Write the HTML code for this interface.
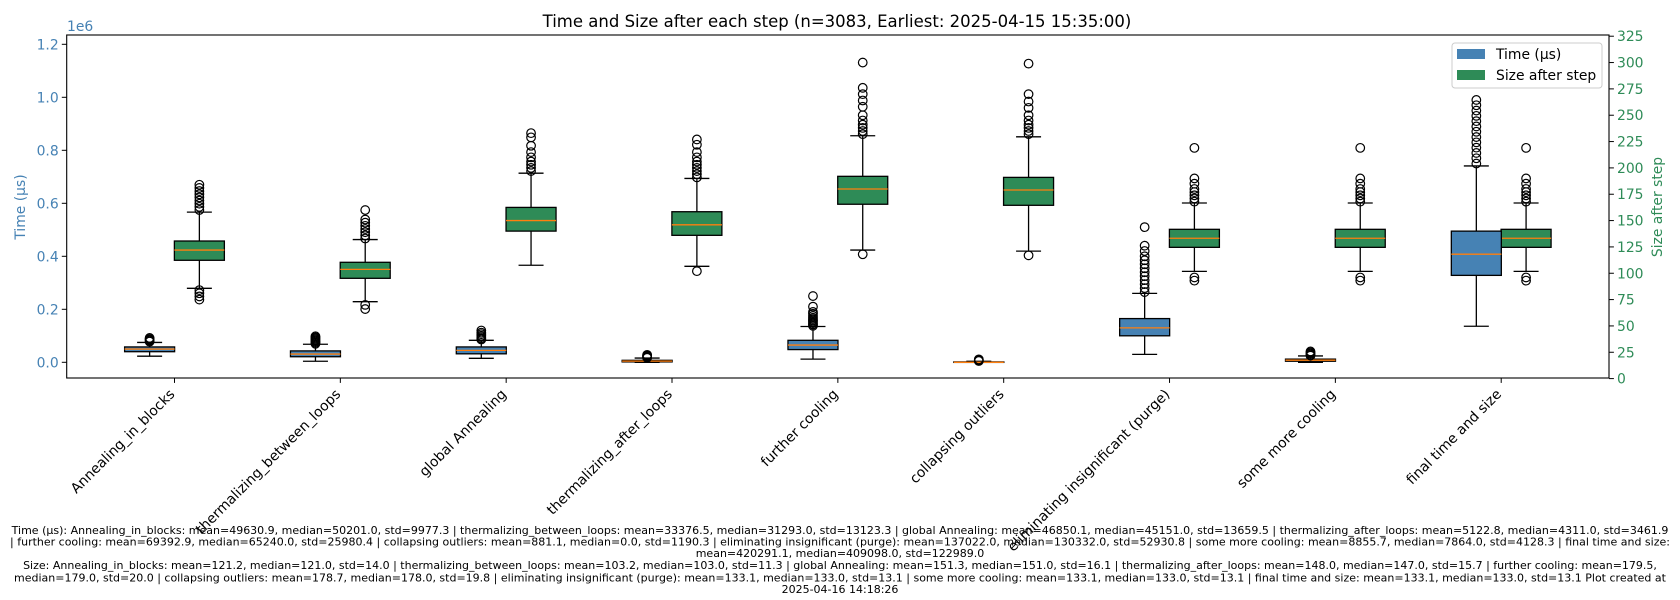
<!DOCTYPE html>
<html><head><meta charset="utf-8"><style>
html,body{margin:0;padding:0;background:#fff;width:1680px;height:600px;overflow:hidden}
svg text{font-family:"DejaVu Sans","Liberation Sans",sans-serif}
.foot{font-size:11px;fill:#000}
</style></head><body>
<svg id="chart" width="1680" height="600" viewBox="0 0 1680 600" xmlns="http://www.w3.org/2000/svg">
<text x="837" y="27" text-anchor="middle" font-size="16.5">Time and Size after each step (n=3083, Earliest: 2025-04-15 15:35:00)</text>
<g id="plot"></g>
<text transform="translate(25,207) rotate(-90)" text-anchor="middle" font-size="13.9" fill="#4682b4">Time (µs)</text>
<text transform="translate(1662,207) rotate(-90)" text-anchor="middle" font-size="13.9" fill="#2e8b57">Size after step</text>
<text x="67" y="31" font-size="13.9" fill="#4682b4">1e6</text>
<g>
<rect x="1452" y="43" width="150" height="45" rx="3" fill="#fff" fill-opacity="0.8" stroke="#ccc"/>
<rect x="1457" y="49" width="28" height="10" fill="#4682b4"/>
<text x="1496" y="59" font-size="13.9">Time (µs)</text>
<rect x="1457" y="70" width="28" height="10" fill="#2e8b57"/>
<text x="1496" y="80" font-size="13.9">Size after step</text>
</g>
<g>
<text class="foot" x="840" y="534" text-anchor="middle">Time (µs): Annealing_in_blocks: mean=49630.9, median=50201.0, std=9977.3 | thermalizing_between_loops: mean=33376.5, median=31293.0, std=13123.3 | global Annealing: mean=46850.1, median=45151.0, std=13659.5 | thermalizing_after_loops: mean=5122.8, median=4311.0, std=3461.9</text>
<text class="foot" x="840" y="545.5" text-anchor="middle">| further cooling: mean=69392.9, median=65240.0, std=25980.4 | collapsing outliers: mean=881.1, median=0.0, std=1190.3 | eliminating insignificant (purge): mean=137022.0, median=130332.0, std=52930.8 | some more cooling: mean=8855.7, median=7864.0, std=4128.3 | final time and size:</text>
<text class="foot" x="840" y="557" text-anchor="middle">mean=420291.1, median=409098.0, std=122989.0</text>
<text class="foot" x="840" y="569" text-anchor="middle">Size: Annealing_in_blocks: mean=121.2, median=121.0, std=14.0 | thermalizing_between_loops: mean=103.2, median=103.0, std=11.3 | global Annealing: mean=151.3, median=151.0, std=16.1 | thermalizing_after_loops: mean=148.0, median=147.0, std=15.7 | further cooling: mean=179.5,</text>
<text class="foot" x="840" y="581.5" text-anchor="middle">median=179.0, std=20.0 | collapsing outliers: mean=178.7, median=178.0, std=19.8 | eliminating insignificant (purge): mean=133.1, median=133.0, std=13.1 | some more cooling: mean=133.1, median=133.0, std=13.1 | final time and size: mean=133.1, median=133.0, std=13.1     Plot created at</text>
<text class="foot" x="840" y="593" text-anchor="middle">2025-04-16 14:18:26</text>
</g>
</svg>
<script>
const categories=["Annealing_in_blocks","thermalizing_between_loops","global Annealing","thermalizing_after_loops","further cooling","collapsing outliers","eliminating insignificant (purge)","some more cooling","final time and size"];
// time in units of 1e6 µs: [whiskerLow, q1, median, q3, whiskerHigh]
const timeStats=[[0.023,0.040,0.050,0.058,0.075],[0.004,0.021,0.031,0.043,0.068],[0.015,0.032,0.045,0.058,0.083],[0,0.0015,0.0043,0.0075,0.016],[0.012,0.048,0.065,0.083,0.135],[0,0,0,0.0015,0.004],[0.03,0.10,0.13,0.165,0.26],[0,0.004,0.008,0.012,0.024],[0.136,0.328,0.408,0.495,0.741]];
const timeOutliers=[[0.078,0.082,0.085,0.088,0.092],[0.070,0.074,0.078,0.082,0.086,0.090,0.094,0.098],[0.086,0.090,0.095,0.100,0.106,0.112,0.120],[0.017,0.019,0.021,0.023,0.025,0.028],[0.138,0.143,0.148,0.153,0.158,0.163,0.168,0.175,0.183,0.19,0.21,0.25],[0.005,0.007,0.009,0.011],[0.265,0.28,0.295,0.31,0.325,0.34,0.355,0.37,0.385,0.40,0.42,0.44,0.51],[0.025,0.029,0.033,0.037,0.041],[0.75,0.77,0.79,0.81,0.83,0.85,0.87,0.89,0.91,0.93,0.95,0.97,0.99]];
const sizeStats=[[85.7,112.3,122,130.6,158],[73,95.2,103.7,110.4,132],[107.6,140,150,162.5,195],[106.6,136,146,158.4,190],[122,165.5,180,192,230.5],[121,164.5,179,191,229.5],[101.8,124.6,133.2,141.7,166.7],[101.8,124.6,133.2,141.7,166.7],[101.8,124.6,133.2,141.7,166.7]];
const sizeOutliers=[[75,78,81,84,160,163,166,169,172,175,178,181,184],[66,70,133,136,139,142,145,148,151,160],[197,200,203,206,210,215,221,229,233],[102,191,194,197,200,203,206,210,215,222,227],[118,232,235,238,241,245,250,258,264,270,276,300],[117,232,235,238,241,245,250,257,263,270,299],[93,96,168,171,174,177,180,185,190,219],[93,96,168,171,174,177,180,185,190,219],[93,96,168,171,174,177,180,185,190,219]];
const leftTicks=[0,0.2,0.4,0.6,0.8,1.0,1.2];
const leftTickLabels=["0.0","0.2","0.4","0.6","0.8","1.0","1.2"];
const rightTicks=[0,25,50,75,100,125,150,175,200,225,250,275,300,325];

const NS="http://www.w3.org/2000/svg";
const PL=66.7,PR=1609,PT=35,PB=378;
const xScale=v=>PL+(v-0.35)/9.3*(PR-PL);
const yL=v=>362.3-v*265;
const yR=v=>378.6-v*1.0535;
const plot=document.getElementById('plot');
function mk(tag,attrs,parent){const e=document.createElementNS(NS,tag);for(const k in attrs)e.setAttribute(k,attrs[k]);(parent||plot).appendChild(e);return e;}

function drawBox(stats,outs,cx,ys,color,name){
  const g=mk('g',{});
  
  
  const w=50,[lo,q1,md,q3,hi]=stats;
  mk('line',{x1:cx,x2:cx,y1:ys(q3),y2:ys(hi),stroke:'#000','stroke-width':1.3},g);
  mk('line',{x1:cx,x2:cx,y1:ys(q1),y2:ys(lo),stroke:'#000','stroke-width':1.3},g);
  mk('line',{x1:cx-12.5,x2:cx+12.5,y1:ys(hi),y2:ys(hi),stroke:'#000','stroke-width':1.3},g);
  mk('line',{x1:cx-12.5,x2:cx+12.5,y1:ys(lo),y2:ys(lo),stroke:'#000','stroke-width':1.3},g);
  const top=ys(q3),bot=ys(q1);
  mk('rect',{x:cx-w/2,y:top,width:w,height:Math.max(bot-top,0.5),fill:color,stroke:'#000','stroke-width':1.3},g);
  mk('line',{x1:cx-w/2,x2:cx+w/2,y1:ys(md),y2:ys(md),stroke:'#ff7f0e','stroke-width':1.3},g);
  outs.forEach(o=>{const c=mk('circle',{cx:cx,cy:ys(o),r:4.3,fill:'none',stroke:'#000','stroke-width':1.2},g);
    
    });
}

leftTicks.forEach((t,i)=>{const y=yL(t);
  mk('line',{x1:PL-4.9,x2:PL,y1:y,y2:y,stroke:'#000','stroke-width':1});
  const tx=mk('text',{x:PL-8,y:y+5,'text-anchor':'end','font-size':13.9,fill:'#4682b4'});tx.textContent=leftTickLabels[i];
  
  });
rightTicks.forEach(t=>{const y=yR(t);
  mk('line',{x1:PR,x2:PR+4.9,y1:y,y2:y,stroke:'#000','stroke-width':1});
  const tx=mk('text',{x:PR+8,y:y+5,'font-size':13.9,fill:'#2e8b57'});tx.textContent=String(t);
  
  });

categories.forEach((c,i)=>{
  const xc=xScale(i+1);
  drawBox(sizeStats[i],sizeOutliers[i],xScale(i+1+0.15),yR,'#2e8b57','size-box-'+(i+1));
  drawBox(timeStats[i],timeOutliers[i],xScale(i+1-0.15),yL,'#4682b4','time-box-'+(i+1));
  mk('line',{x1:xc,x2:xc,y1:PB,y2:PB+4.9,stroke:'#000','stroke-width':1});
  const tx=mk('text',{transform:`translate(${xc+1},${PB+17}) rotate(-45)`,'text-anchor':'end','font-size':13.9,fill:'#000'});
  tx.textContent=c;
  
  
});
const frame=mk('rect',{x:PL,y:PT,width:PR-PL,height:PB-PT,fill:'none',stroke:'#000','stroke-width':1.1});


</script>
</body></html>
